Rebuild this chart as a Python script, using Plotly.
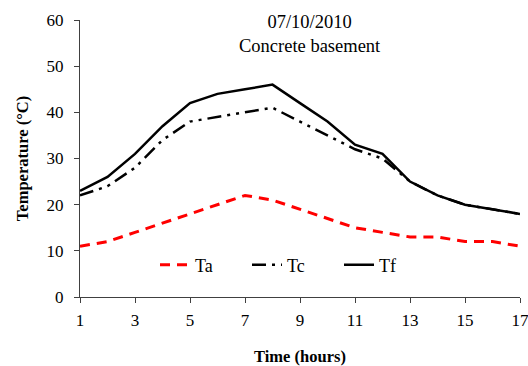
import plotly.graph_objects as go

hours = list(range(1, 18))
ta = [11, 12, 14, 16, 18, 20, 22, 21, 19, 17, 15, 14, 13, 13, 12, 12, 11]
tc = [22, 24, 28, 34, 38, 39, 40, 41, 38, 35, 32, 30, 25, 22, 20, 19, 18]
tf = [23, 26, 31, 37, 42, 44, 45, 46, 42, 38, 33, 31, 25, 22, 20, 19, 18]
title_lines = ["07/10/2010", "Concrete basement"]

font = "Times New Roman, Liberation Serif, serif"

fig = go.Figure()
fig.add_trace(go.Scatter(x=hours, y=ta, name="Ta", mode="lines",
                         line=dict(color="#ff0000", width=3, dash="10px,7px")))
fig.add_trace(go.Scatter(x=hours, y=tc, name="Tc", mode="lines",
                         line=dict(color="black", width=2.5, dash="14px,6px,3px,6px,3px,6px")))
fig.add_trace(go.Scatter(x=hours, y=tf, name="Tf", mode="lines",
                         line=dict(color="black", width=2.5)))

fig.add_annotation(text="<br>".join(title_lines), xref="paper", yref="paper",
                   x=(310 - 80) / 440, y=1 + 10 / 277, xanchor="center", yanchor="top",
                   showarrow=False, align="center",
                   font=dict(family=font, size=18.5, color="black"))

fig.update_layout(
    width=528, height=366,
    margin=dict(l=80, r=8, t=20, b=69),
    paper_bgcolor="white", plot_bgcolor="white",
    font=dict(family=font, size=17, color="black"),
    showlegend=True,
    legend=dict(orientation="h", x=(155 - 80) / 440, xanchor="left", y=(297 - 265) / 277,
                yanchor="middle", bgcolor="rgba(0,0,0,0)", entrywidth=47,
                font=dict(family=font, size=18, color="black")),
    xaxis=dict(range=[1, 17], tickvals=[1, 3, 5, 7, 9, 11, 13, 15, 17], showgrid=False,
               zeroline=False, showline=True, linecolor="#404040", linewidth=1,
               ticks="outside", ticklen=5, tickcolor="#404040", ticklabelstandoff=3,
               ticklabeloverflow="allow", automargin=False,
               tickfont=dict(family=font, size=17),
               title=dict(text="<b>Time (hours)</b>", font=dict(family=font, size=16.5), standoff=26)),
    yaxis=dict(range=[0, 60], dtick=10, showgrid=False, zeroline=False, showline=True,
               linecolor="#404040", linewidth=1, ticks="outside", ticklen=5, tickcolor="#404040",
               ticklabelstandoff=7, automargin=False, tickfont=dict(family=font, size=17),
               title=dict(text="<b>Temperature (°C)</b>", font=dict(family=font, size=16.5), standoff=13)),
)

fig.write_html("out.html")
